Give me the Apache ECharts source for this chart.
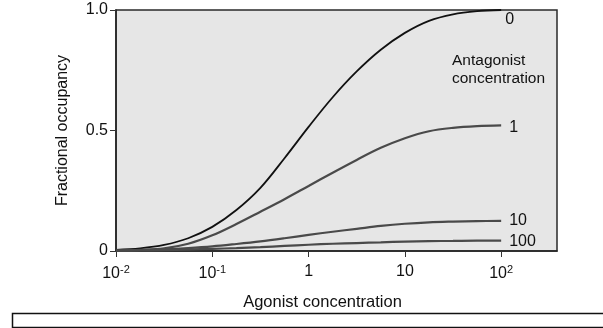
<!DOCTYPE html>
<html>
<head>
<meta charset="utf-8">
<script src="https://cdn.jsdelivr.net/npm/echarts@6/dist/echarts.min.js"></script>
<style>
html,body{margin:0;padding:0;background:#fff;}
#chart{width:603px;height:328px;}
</style>
</head>
<body>
<div id="chart"></div>
<script>
// Agonist concentration (x), read at quarter-decade steps from 10^-2 to 10^2
const agonist = [0.01, 0.0178, 0.0316, 0.0562, 0.1, 0.178, 0.316, 0.562, 1, 1.78, 3.16, 5.62, 10, 17.8, 31.6, 56.2, 100];
// Fractional occupancy for each antagonist concentration
const occ0   = [0.005, 0.011, 0.025, 0.053, 0.1, 0.17, 0.262, 0.385, 0.515, 0.638, 0.745, 0.835, 0.905, 0.955, 0.982, 0.995, 1.0];
const occ1   = [0.003, 0.005, 0.011, 0.03, 0.065, 0.112, 0.163, 0.215, 0.27, 0.325, 0.378, 0.428, 0.468, 0.497, 0.511, 0.518, 0.521];
const occ10  = [0.002, 0.004, 0.007, 0.012, 0.019, 0.029, 0.04, 0.053, 0.067, 0.08, 0.092, 0.104, 0.113, 0.119, 0.122, 0.124, 0.125];
const occ100 = [0.001, 0.002, 0.004, 0.006, 0.009, 0.012, 0.016, 0.021, 0.026, 0.030, 0.033, 0.036, 0.039, 0.041, 0.042, 0.043, 0.043];
const seriesNames = ['0', '1', '10', '100'];
const xTicks = [0.01, 0.1, 1, 10, 100];
const xTickLabels = ['10{s|-2}', '10{s|-1}', '1', '10', '10{s|2}'];
const yTicks = [0, 0.5, 1.0];
const yTickLabels = ['0', '0.5', '1.0'];

const font = '"Liberation Sans", Arial, Helvetica, sans-serif';
const chart = echarts.init(document.getElementById('chart'));

function mk(name, vals, color, width, offset) {
  return {
    name: name,
    type: 'line',
    smooth: 0.35,
    symbol: 'none',
    data: agonist.map((x, i) => [x, vals[i]]),
    lineStyle: { color: color, width: width },
    endLabel: {
      show: true,
      formatter: name,
      color: '#111',
      fontFamily: font,
      fontSize: 16,
      distance: 8,
      offset: offset
    },
    z: 3
  };
}

chart.setOption({
  animation: false,
  backgroundColor: '#fff',
  grid: {
    left: 116, right: 46, top: 10, bottom: 77,
    show: true,
    backgroundColor: '#e6e6e6',
    borderColor: '#2a2a2a',
    borderWidth: 1.5
  },
  xAxis: {
    type: 'log',
    logBase: 10,
    min: 0.01,
    max: 380,
    name: 'Agonist concentration',
    nameLocation: 'middle',
    nameGap: 43,
    nameTextStyle: { fontFamily: font, fontSize: 16.5, color: '#111', padding: [0, 28, 0, 0] },
    axisLine: { show: true, lineStyle: { color: '#222', width: 1.5 } },
    axisTick: { show: true, length: 6, inside: false, customValues: xTicks, lineStyle: { color: '#333', width: 1 } },
    splitLine: { show: false },
    axisLabel: {
      customValues: xTicks,
      margin: 13,
      fontFamily: font,
      fontSize: 16,
      color: '#111',
      formatter: function (v) {
        const i = xTicks.findIndex(t => Math.abs(Math.log10(t) - Math.log10(v)) < 1e-6);
        return i >= 0 ? xTickLabels[i] : '';
      },
      rich: {
        s: { fontSize: 11, fontFamily: font, color: '#111', padding: [0, 0, 9, 0] }
      }
    }
  },
  yAxis: {
    type: 'value',
    min: 0,
    max: 1,
    interval: 0.5,
    name: 'Fractional occupancy',
    nameLocation: 'middle',
    nameGap: 45,
    nameTextStyle: { fontFamily: font, fontSize: 16, color: '#111' },
    axisLine: { show: true, lineStyle: { color: '#222', width: 1.5 } },
    axisTick: { show: true, length: 6, lineStyle: { color: '#333' } },
    splitLine: { show: false },
    axisLabel: {
      margin: 8,
      fontFamily: font,
      fontSize: 16,
      color: '#111',
      formatter: function (v) {
        const i = yTicks.findIndex(t => Math.abs(t - v) < 1e-9);
        return i >= 0 ? yTickLabels[i] : '';
      }
    }
  },
  series: [
    mk(seriesNames[0], occ0, '#111', 1.8, [-4, 10]),
    mk(seriesNames[1], occ1, '#4a4a4a', 2.2, [0, 2]),
    mk(seriesNames[2], occ10, '#4a4a4a', 2.2, [0, 0]),
    mk(seriesNames[3], occ100, '#4a4a4a', 2.2, [0, 1])
  ],
  graphic: [
    {
      type: 'text',
      left: 452, top: 52,
      style: {
        text: 'Antagonist\nconcentration',
        align: 'center',
        fontFamily: font, fontSize: 15.5, lineHeight: 18, fill: '#111'
      },
      z: 10
    },
    {
      type: 'rect',
      left: 10, top: 311,
      shape: { width: 610, height: 14 },
      style: { fill: 'none', stroke: '#111', lineWidth: 1.5 },
      z: 10
    }
  ]
});
</script>
</body>
</html>
